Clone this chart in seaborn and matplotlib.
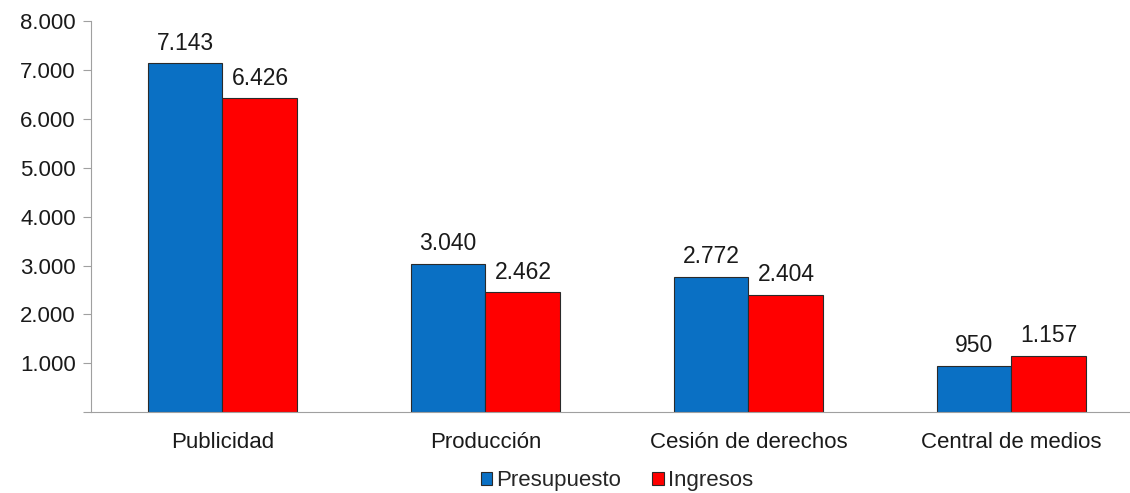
import pandas as pd
import seaborn as sns
import matplotlib.pyplot as plt
from matplotlib.ticker import FuncFormatter

categorias = ["Publicidad", "Producción", "Cesión de derechos", "Central de medios"]
presupuesto = [7143, 3040, 2772, 950]
ingresos = [6426, 2462, 2404, 1157]
series = ["Presupuesto", "Ingresos"]
colores = ["#0A70C4", "#FF0000"]

df = pd.DataFrame({
    "categoria": categorias * 2,
    "valor": presupuesto + ingresos,
    "serie": [series[0]] * 4 + [series[1]] * 4,
})

sns.set_style("white")
plt.rcParams['font.family'] = ['Liberation Sans', 'DejaVu Sans']

fig = plt.figure(figsize=(11.3, 4.93), dpi=100)
# the plot area runs past the right edge of the picture, as in the original
ax = fig.add_axes([0.0805, 0.164, 0.931, 0.793])

sns.barplot(data=df, x="categoria", y="valor", hue="serie", palette=colores,
            saturation=1, width=0.57, gap=0, edgecolor="#2a2a2a", linewidth=0.8, ax=ax)

def fmt(v, pos=None):
    return f"{int(v):,}".replace(",", ".")

for cont in ax.containers:
    for bar in cont:
        h = bar.get_height()
        ax.text(bar.get_x() + bar.get_width() / 2, h + 170, fmt(h),
                ha="center", va="bottom", fontsize=16.5, color="#1a1a1a")

ax.set_ylim(0, 8000)
ax.set_xlim(-0.5, 3.5)
ax.set_yticks(range(0, 8001, 1000))
ax.yaxis.set_major_formatter(FuncFormatter(lambda v, p: "" if v == 0 else fmt(v)))
ax.set_xticks([0, 1, 2, 3])
ax.set_xticklabels(categorias)
ax.set_xticks([-0.5, 0.5, 1.5, 2.5, 3.5], minor=True)
ax.tick_params(axis="x", which="major", length=0, labelsize=16, pad=14, labelcolor="#1a1a1a")
ax.tick_params(axis="x", which="minor", length=6, color="#a0a0a0", direction="out")
ax.tick_params(axis="y", length=6, color="#a0a0a0", direction="out", labelsize=16,
               left=True, pad=5, labelcolor="#1a1a1a")
ax.set_xlabel("")
ax.set_ylabel("")

for s in ["top", "right"]:
    ax.spines[s].set_visible(False)
ax.spines["left"].set_color("#a0a0a0")
ax.spines["bottom"].set_color("#a0a0a0")

h, l = ax.get_legend_handles_labels()
ax.legend(h, l, loc="center", bbox_to_anchor=(0.5, -0.175), ncol=2, frameon=False,
          fontsize=16, handlelength=0.5, handleheight=0.5, handletextpad=0.2, columnspacing=1.4)

fig.savefig("out.png", dpi=100)
